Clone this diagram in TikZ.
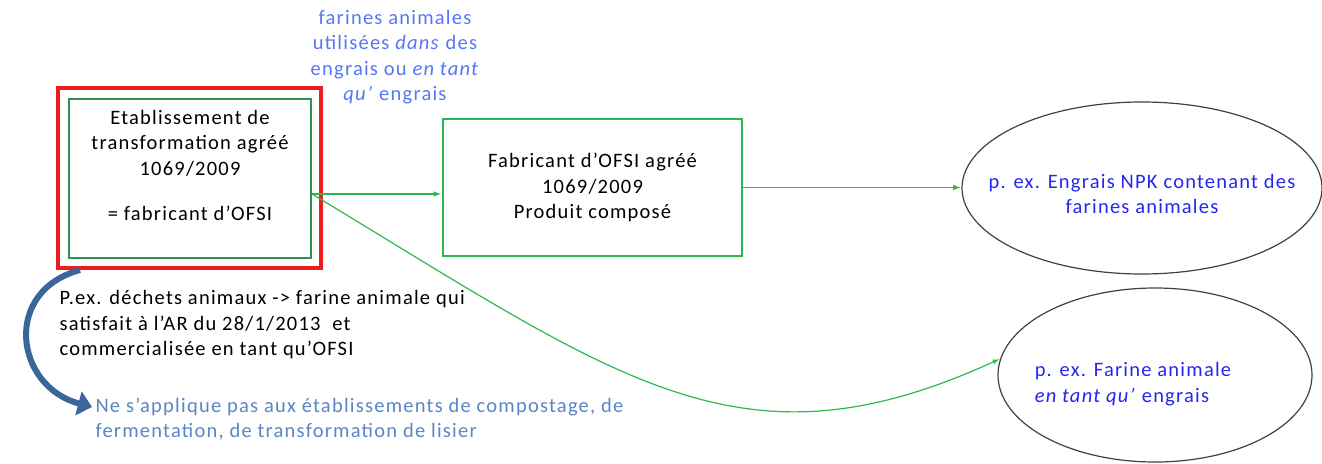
\documentclass[tikz,border=0pt]{standalone}
\usepackage{fontspec}
\setmainfont{Carlito}[LetterSpace=6]
\usetikzlibrary{arrows,arrows.meta,shapes.geometric,positioning}
\definecolor{rouge}{HTML}{EE1C1C}
\definecolor{vertfonce}{HTML}{2E9155}
\definecolor{vert}{HTML}{2DB84D}
\definecolor{bleuclair}{HTML}{5577F5}
\definecolor{bleu}{HTML}{2626F0}
\definecolor{bleugris}{HTML}{5A86C5}
\definecolor{bleufleche}{HTML}{3A6699}
\newcommand{\txt}{\fontsize{20.5}{25.5}\selectfont}
\tikzstyle{post}=[->,shorten >=1pt,>=latex,draw=vert,line width=1.5pt]
\tikzstyle{redbox}=[draw=rouge,line width=4pt,minimum width=263pt,minimum height=180pt]
\tikzstyle{greenbox}=[draw=vertfonce,line width=2pt,minimum width=242pt,minimum height=159pt,align=center]
\tikzstyle{fabbox}=[draw=vert,line width=2.2pt,minimum width=299pt,minimum height=137pt,align=center]
\tikzstyle{oval}=[ellipse,draw=black!75,line width=1.2pt]

\begin{document}
\begin{tikzpicture}[x=1pt,y=-1pt,every node/.style={font=\txt}]
    \useasboundingbox (0,0) rectangle (1322,463);
    \node (R) [redbox] at (189.5,178) {};
    \node (A) [greenbox] at (190,178) {Etablissement de\\ transformation agréé\\ 1069/2009\\[20pt] = fabricant d'OFSI\\ ~};
    \node (B) [fabbox] at (592.5,187.5) {Fabricant d'OFSI agréé\\ 1069/2009\\ Produit composé};
    \node (E1) [oval,minimum width=360pt,minimum height=172pt,
        label={[align=center,text=bleu,yshift=-6pt]center:p. ex. Engrais NPK contenant des\\ farines animales}] at (1142,188) {};
    \node (E2) [oval,minimum width=314pt,minimum height=174pt,
        label={[align=left,text=bleu,xshift=-22pt,yshift=-9pt]center:p. ex. Farine animale\\ \textit{en tant qu'} engrais}] at (1155,375) {};
    \node (L) [align=center,text=bleuclair] at (395,57) {farines animales\\ utilisées \textit{dans} des\\ engrais ou \textit{en tant}\\ \textit{qu'} engrais};
    \node (T) [align=left,anchor=west] at (56,325) {P.ex. déchets animaux -> farine animale qui\\ satisfait à l'AR du 28/1/2013~ et\\ commercialisée en tant qu'OFSI};
    \node (N) [align=left,anchor=west,text=bleugris] at (92,419) {Ne s'applique pas aux établissements de compostage, de\\ fermentation, de transformation de lisier};

    \coordinate (a1) at ([yshift=-16pt]A.east);
    \draw[post] (a1) -- (a1 -| B.west);
    \draw[post] (B.east) -- (B.east -| E1.west);
    \draw[post,line width=1.2pt] (a1) .. controls (620,380) and (740,478) .. (E2.174);
    \draw[draw=bleufleche,line width=6pt,-{Triangle[length=14pt,width=24pt]}]
        ([xshift=24pt]R.south west) to[out=195,in=165,looseness=1.5] ([yshift=12pt]N.west);
\end{tikzpicture}
\end{document}
